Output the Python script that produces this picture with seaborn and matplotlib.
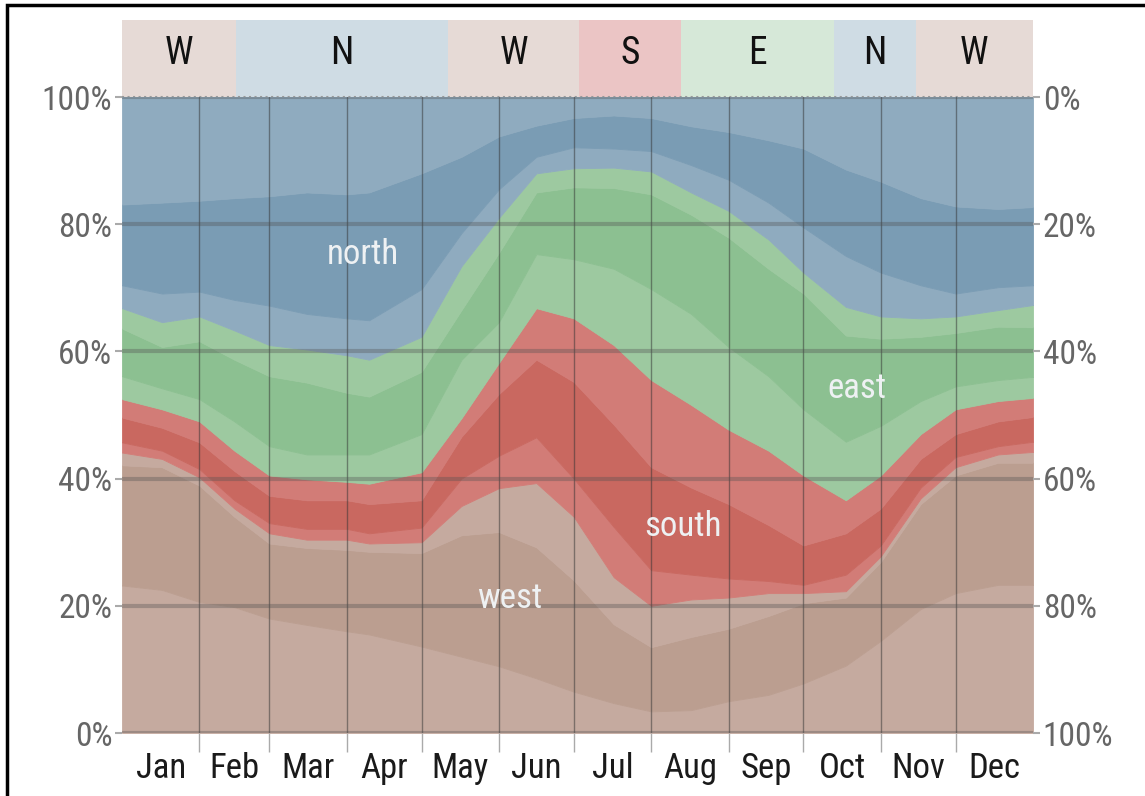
import numpy as np
import pandas as pd
import seaborn as sns
import matplotlib.pyplot as plt
from matplotlib.patches import Rectangle

# day of year for each reading
day = [1, 17, 32, 46, 60, 75, 91, 100, 121, 137, 152, 167, 182,
       198, 213, 229, 244, 260, 274, 291, 305, 321, 335, 352, 366]

# cumulative share (%) at the top of each band, from the bottom up
west_1 = [23.2, 22.5, 20.6, 19.8, 18.0, 17.0, 16.0, 15.5, 13.6, 12.0, 10.5, 8.6, 6.5,
          4.7, 3.4, 3.6, 5.0, 6.0, 7.8, 10.6, 14.5, 19.5, 22.0, 23.3, 23.3]
west_2 = [42.1, 41.8, 38.9, 34.0, 29.8, 29.1, 28.8, 28.5, 28.3, 31.1, 31.6, 29.2, 24.0,
          17.1, 13.5, 15.1, 16.4, 18.4, 20.4, 21.3, 26.9, 36.0, 40.5, 42.5, 42.5]
west_3 = [44.1, 43.1, 40.2, 35.3, 31.4, 30.4, 30.4, 29.8, 30.0, 35.7, 38.5, 39.3, 34.0,
          24.5, 20.0, 21.0, 21.3, 22.0, 22.0, 22.3, 27.8, 36.9, 41.8, 43.8, 44.2]
south_1 = [45.7, 44.4, 41.5, 36.6, 33.0, 32.1, 32.1, 31.4, 32.3, 40.0, 43.6, 46.5, 40.0,
           32.4, 25.6, 24.9, 24.3, 23.9, 23.3, 24.9, 29.5, 38.6, 43.4, 45.1, 45.8]
south_2 = [49.6, 48.0, 45.7, 41.2, 37.3, 36.6, 36.6, 36.0, 36.6, 46.6, 53.3, 58.7, 55.2,
           48.5, 41.8, 38.6, 36.0, 32.7, 29.5, 31.4, 35.3, 43.1, 47.0, 49.0, 49.7]
south_3 = [52.5, 50.9, 49.0, 44.4, 40.5, 39.9, 39.5, 39.2, 41.0, 49.5, 58.2, 66.8, 65.2,
           61.0, 55.5, 51.6, 47.7, 44.4, 40.5, 36.6, 40.5, 47.0, 50.9, 52.2, 52.7]
east_1 = [56.1, 54.2, 52.5, 49.0, 45.1, 43.8, 43.8, 43.8, 47.0, 58.7, 64.6, 75.3, 74.5,
          73.0, 69.8, 65.9, 60.7, 56.1, 50.9, 45.8, 48.3, 52.2, 54.5, 55.5, 56.0]
east_2 = [63.6, 60.7, 61.6, 58.7, 56.1, 55.1, 53.5, 52.9, 56.8, 66.5, 75.5, 85.0, 85.8,
          85.7, 84.7, 81.5, 77.9, 73.0, 69.1, 62.5, 62.0, 62.3, 62.9, 63.9, 63.8]
east_3 = [66.8, 64.6, 65.5, 63.3, 61.0, 60.3, 59.4, 58.7, 62.3, 73.4, 81.0, 88.0, 88.8,
          88.9, 88.3, 85.0, 82.1, 77.6, 72.4, 67.0, 65.5, 65.2, 65.5, 66.5, 67.3]
north_1 = [70.4, 69.1, 69.4, 68.1, 67.2, 65.9, 65.2, 64.9, 69.8, 78.6, 85.5, 90.6, 92.1,
           91.9, 91.5, 89.3, 87.0, 83.4, 79.5, 75.0, 72.4, 70.4, 69.1, 70.1, 70.4]
north_2 = [83.1, 83.4, 83.7, 84.1, 84.4, 85.0, 84.7, 85.0, 88.0, 90.6, 93.8, 95.5, 96.7,
           97.1, 96.7, 95.4, 94.5, 93.2, 91.9, 88.6, 86.7, 84.1, 82.8, 82.4, 82.7]
north_3 = [100.0] * len(day)

# dominant direction strip on top
strip_start = [1, 46.7, 131.6, 184.1, 225.0, 286.3, 319.1]
strip_end = [46.7, 131.6, 184.1, 225.0, 286.3, 319.1, 366]
strip_dir = ['W', 'N', 'W', 'S', 'E', 'N', 'W']

months = ['Jan', 'Feb', 'Mar', 'Apr', 'May', 'Jun',
          'Jul', 'Aug', 'Sep', 'Oct', 'Nov', 'Dec']
month_start = [1, 32, 60, 91, 121, 152, 182, 213, 244, 274, 305, 335, 366]

df = pd.DataFrame({'day': day, 'w1': west_1, 'w2': west_2, 'w3': west_3,
                   's1': south_1, 's2': south_2, 's3': south_3,
                   'e1': east_1, 'e2': east_2, 'e3': east_3,
                   'n1': north_1, 'n2': north_2, 'n3': north_3})

light = {'W': '#C5AA9F', 'S': '#D27C77', 'E': '#9DC9A0', 'N': '#8FABBF'}
dark = {'W': '#BB9E90', 'S': '#C96860', 'E': '#8CC091', 'N': '#7A9CB4'}
pale = {'W': '#E6DAD6', 'N': '#CFDCE4', 'S': '#EBC5C5', 'E': '#D6E8D8'}

sns.set_theme(style='white')
plt.rcParams['font.family'] = ['Liberation Sans Narrow', 'Roboto Condensed',
                               'DejaVu Sans Condensed', 'DejaVu Sans']

fig = plt.figure(figsize=(11.45, 7.96), dpi=100)
ax = fig.add_axes([0.1066, 0.0791, 0.7956, 0.799])
strip = fig.add_axes([0.1066, 0.8781, 0.7956, 0.0968])

cols = ['w1', 'w2', 'w3', 's1', 's2', 's3', 'e1', 'e2', 'e3', 'n1', 'n2', 'n3']
lower = None
for c in cols:
    d = c[0].upper()
    color = dark[d] if c[1] == '2' else light[d]
    lo = np.zeros(len(df)) if lower is None else df[lower]
    ax.fill_between(df['day'], lo, df[c], color=color, lw=0.6, edgecolor=color)
    lower = c

ax.set_xlim(1, 366)
ax.set_ylim(0, 100)
for s in ax.spines.values():
    s.set_visible(False)

yt = [0, 20, 40, 60, 80, 100]
ax.set_yticks(yt)
ax.set_yticklabels([f'{v}%' for v in yt])
ax.grid(axis='y', color='#505050', alpha=0.35, lw=3)
ax.set_axisbelow(False)

mid = [(a + b) / 2 for a, b in zip(month_start[:-1], month_start[1:])]
ax.set_xticks(mid)
ax.set_xticklabels(months)
ax.set_xticks(month_start[1:-1], minor=True)
ax.grid(axis='x', which='minor', color='#333333', alpha=0.5, lw=1)
ax.tick_params(axis='x', which='major', length=0, pad=14, labelsize=25, labelcolor='#1a1a1a')
ax.tick_params(axis='x', which='minor', length=14, width=1, color='#aaaaaa', bottom=True)
ax.tick_params(axis='y', length=5, width=1.5, color='#aaaaaa', left=True,
               labelsize=24, labelcolor='#666666', pad=2)

ax2 = ax.twinx()
ax2.set_ylim(100, 0)
ax2.set_yticks(yt)
ax2.set_yticklabels([f'{v}%' for v in yt])
ax2.tick_params(axis='y', length=5, width=1.5, color='#aaaaaa', right=True,
                labelsize=24, labelcolor='#666666', pad=2)
ax2.grid(False)
for s in ax2.spines.values():
    s.set_visible(False)

lab_kw = dict(color='#EEF1F3', fontsize=25, ha='center', va='center', zorder=5)
ax.text(97.6, 75.2, 'north', **lab_kw)
ax.text(295.5, 54.2, 'east', **lab_kw)
ax.text(225.8, 32.4, 'south', **lab_kw)
ax.text(156.4, 21.2, 'west', **lab_kw)

strip.set_xlim(1, 366)
strip.set_ylim(0, 1)
for a, b, d in zip(strip_start, strip_end, strip_dir):
    strip.axvspan(a, b, color=pale[d], lw=0)
    strip.text((a + b) / 2, 0.56, d, ha='center', va='center', fontsize=27, color='#111111')
strip.axhline(0, color='#9a9a9a', lw=1.5, ls=':')
strip.axis('off')

fig.patches.append(Rectangle((7 / 1145, -0.05), 1.1, 1 - 5 / 796 + 0.05,
                             transform=fig.transFigure, fill=False, lw=2.5,
                             edgecolor='black'))

fig.savefig('out.png', dpi=100)
